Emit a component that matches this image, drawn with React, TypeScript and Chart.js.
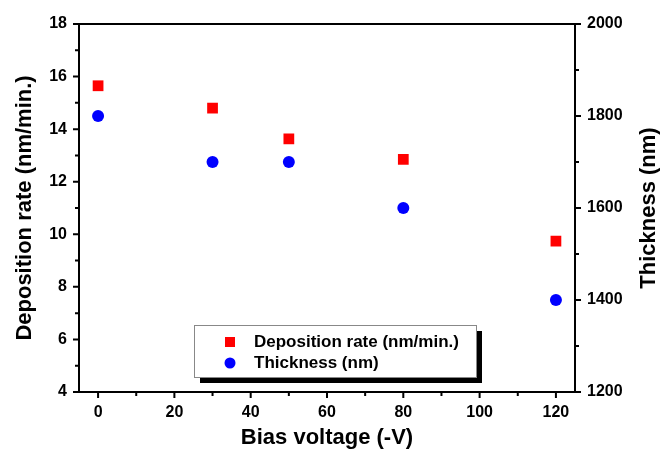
import React, { useEffect, useRef } from "react";
import { Chart, registerables } from "chart.js";

Chart.register(...registerables);

const biasVoltage = [0, 30, 50, 80, 120];
const depositionRate = [15.65, 14.8, 13.63, 12.85, 9.74];
const thickness = [1800, 1700, 1700, 1600, 1400];

const xTicks = [0, 20, 40, 60, 80, 100, 120];
const xMinorTicks = [10, 30, 50, 70, 90, 110];
const leftTicks = [4, 6, 8, 10, 12, 14, 16, 18];
const leftMinorTicks = [5, 7, 9, 11, 13, 15, 17];
const rightTicks = [1200, 1400, 1600, 1800, 2000];
const rightMinorTicks = [1300, 1500, 1700, 1900];

const rightTitle = "Thickness (nm)";

const FONT = "'Liberation Sans', Arial, sans-serif";

const framePlugin = {
  id: "frame",
  afterDraw(chart: any) {
    const { ctx, chartArea: a, scales } = chart;
    ctx.save();
    ctx.strokeStyle = "#000";
    ctx.lineWidth = 2;
    ctx.strokeRect(a.left, a.top, a.right - a.left, a.bottom - a.top);
    const major = 6;
    const minor = 4;
    ctx.beginPath();
    const x = scales.x;
    xTicks.forEach((v) => {
      const p = x.getPixelForValue(v);
      ctx.moveTo(p, a.bottom);
      ctx.lineTo(p, a.bottom + major);
    });
    xMinorTicks.forEach((v) => {
      const p = x.getPixelForValue(v);
      ctx.moveTo(p, a.bottom);
      ctx.lineTo(p, a.bottom + minor);
    });
    const y = scales.y;
    leftTicks.forEach((v) => {
      const p = y.getPixelForValue(v);
      ctx.moveTo(a.left, p);
      ctx.lineTo(a.left - major, p);
    });
    leftMinorTicks.forEach((v) => {
      const p = y.getPixelForValue(v);
      ctx.moveTo(a.left, p);
      ctx.lineTo(a.left - minor, p);
    });
    const y2 = scales.y2;
    rightTicks.forEach((v) => {
      const p = y2.getPixelForValue(v);
      ctx.moveTo(a.right, p);
      ctx.lineTo(a.right + major, p);
    });
    rightMinorTicks.forEach((v) => {
      const p = y2.getPixelForValue(v);
      ctx.moveTo(a.right, p);
      ctx.lineTo(a.right + minor, p);
    });
    ctx.stroke();

    // right axis title, reading bottom to top
    ctx.save();
    ctx.translate(649, (a.top + a.bottom) / 2);
    ctx.rotate(-Math.PI / 2);
    ctx.fillStyle = "#000";
    ctx.font = `bold 22px ${FONT}`;
    ctx.textAlign = "center";
    ctx.textBaseline = "middle";
    ctx.fillText(rightTitle, 0, 0);
    ctx.restore();

    // legend
    const bx = 194, by = 325, bw = 282, bh = 52;
    ctx.fillStyle = "#000";
    ctx.fillRect(bx + 6, by + 6, bw, bh);
    ctx.fillStyle = "#fff";
    ctx.fillRect(bx, by, bw, bh);
    ctx.strokeStyle = "#888";
    ctx.lineWidth = 1;
    ctx.strokeRect(bx + 0.5, by + 0.5, bw, bh);
    const ds = chart.data.datasets;
    const rows = [342, 363];
    ds.forEach((d: any, i: number) => {
      const cy = rows[i];
      ctx.fillStyle = d.backgroundColor;
      if (d.pointStyle === "rect") {
        ctx.fillRect(230 - 5, cy - 5, 10, 10);
      } else {
        ctx.beginPath();
        ctx.arc(230, cy, 5.5, 0, Math.PI * 2);
        ctx.fill();
      }
      ctx.fillStyle = "#000";
      ctx.font = `bold 17px ${FONT}`;
      ctx.textBaseline = "middle";
      ctx.textAlign = "left";
      ctx.fillText(d.label, 254, cy);
    });
    ctx.restore();
  },
};

export default function App() {
  const ref = useRef<HTMLCanvasElement>(null);
  useEffect(() => {
    if (!ref.current) return;
    const tickFont = { family: FONT, size: 16, weight: "bold" as const };
    const titleFont = { family: FONT, size: 22, weight: "bold" as const };
    const plain = (v: any) => String(v);
    const chart = new Chart(ref.current, {
      type: "scatter",
      data: {
        datasets: [
          {
            label: "Deposition rate (nm/min.)",
            data: biasVoltage.map((x, i) => ({ x, y: depositionRate[i] })),
            backgroundColor: "#ff0000",
            borderColor: "#ff0000",
            pointStyle: "rect",
            pointRadius: 7.6,
            borderWidth: 0,
            yAxisID: "y",
          },
          {
            label: "Thickness (nm)",
            data: biasVoltage.map((x, i) => ({ x, y: thickness[i] })),
            backgroundColor: "#0000ff",
            borderColor: "#0000ff",
            pointStyle: "circle",
            pointRadius: 6,
            borderWidth: 0,
            yAxisID: "y2",
          },
        ],
      },
      options: {
        animation: false,
        responsive: false,
        maintainAspectRatio: false,
        layout: { padding: { top: 24, left: 0, right: 0, bottom: 0 } },
        plugins: { legend: { display: false }, tooltip: { enabled: false } },
        scales: {
          x: {
            type: "linear",
            min: -5,
            max: 125,
            afterBuildTicks: (s: any) => {
              s.ticks = xTicks.map((v) => ({ value: v }));
            },
            afterFit: (s: any) => {
              s.height = 63;
            },
            grid: { display: false, drawTicks: false },
            border: { display: false },
            ticks: { font: tickFont, color: "#000", padding: 11, maxRotation: 0, callback: plain },
            title: {
              display: true,
              text: "Bias voltage (-V)",
              font: titleFont,
              color: "#000",
              padding: { top: 0, bottom: 4 },
            },
          },
          y: {
            type: "linear",
            position: "left",
            min: 4,
            max: 18,
            afterBuildTicks: (s: any) => {
              s.ticks = leftTicks.map((v) => ({ value: v }));
            },
            afterFit: (s: any) => {
              s.width = 79;
            },
            grid: { display: false, drawTicks: false },
            border: { display: false },
            ticks: { font: tickFont, color: "#000", padding: 12, callback: plain },
            title: {
              display: true,
              text: "Deposition rate (nm/min.)",
              font: titleFont,
              color: "#000",
              padding: { top: 12, bottom: 0 },
            },
          },
          y2: {
            type: "linear",
            position: "right",
            min: 1200,
            max: 2000,
            afterBuildTicks: (s: any) => {
              s.ticks = rightTicks.map((v) => ({ value: v }));
            },
            afterFit: (s: any) => {
              s.width = 88;
            },
            grid: { display: false, drawTicks: false },
            border: { display: false },
            ticks: { font: tickFont, color: "#000", padding: 12, callback: plain },
            title: { display: false, text: rightTitle },
          },
        },
      },
      plugins: [framePlugin],
    });
    return () => chart.destroy();
  }, []);
  return (
    <div style={{ position: "absolute", left: 0, top: 0, width: 663, height: 455, background: "#fff" }}>
      <canvas ref={ref} width={663} height={455} style={{ width: 663, height: 455 }} />
    </div>
  );
}
